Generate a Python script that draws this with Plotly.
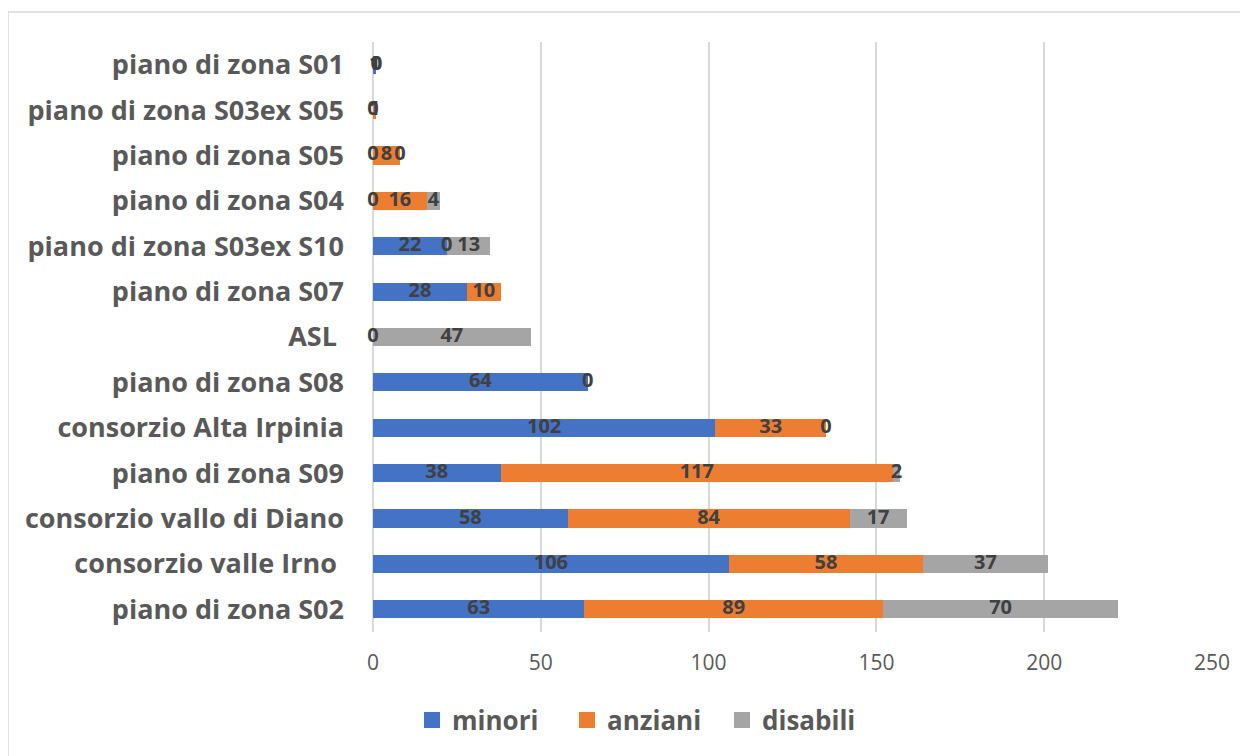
import plotly.graph_objects as go

categories = [
    "piano di zona S02",
    "consorzio valle Irno\u00a0",
    "consorzio vallo di Diano",
    "piano di zona S09",
    "consorzio Alta Irpinia",
    "piano di zona S08",
    "ASL\u00a0",
    "piano di zona S07",
    "piano di zona S03ex S10",
    "piano di zona S04",
    "piano di zona S05",
    "piano di zona S03ex S05",
    "piano di zona S01",
]
minori = [63, 106, 58, 38, 102, 64, 0, 28, 22, 0, 0, 0, 1]
anziani = [89, 58, 84, 117, 33, 0, None, 10, 0, 16, 8, 1, 0]
disabili = [70, 37, 17, 2, 0, None, 47, None, 13, 4, 0, None, 0]

series_names = ["minori", "anziani", "disabili"]
series_vals = [minori, anziani, disabili]
colors = ["#4472C4", "#ED7D31", "#A5A5A5"]

FONT = "Open Sans"
fig = go.Figure()

for name, vals, col in zip(series_names, series_vals, colors):
    fig.add_trace(go.Bar(
        y=categories, x=[v if v is not None else 0 for v in vals], name=name,
        orientation="h", marker=dict(color=col, line=dict(width=0)),
        hoverinfo="skip", showlegend=False,
    ))

# data labels centred on each segment
cum = [0] * len(categories)
for vals in series_vals:
    xs, ys, ts = [], [], []
    for i, v in enumerate(vals):
        vv = v if v is not None else 0
        if v is not None:
            xs.append(cum[i] + vv / 2)
            ys.append(categories[i])
            ts.append(str(v))
        cum[i] += vv
    fig.add_trace(go.Scatter(
        x=xs, y=ys, text=ts, mode="text", showlegend=False, hoverinfo="skip",
        textposition="middle center",
        textfont=dict(family=FONT, size=20, color="#404040", weight="bold"),
        cliponaxis=False,
    ))

# legend entries with larger square swatches
for name, col in zip(series_names, colors):
    fig.add_trace(go.Scatter(
        x=[None], y=[None], mode="markers", name=name,
        marker=dict(symbol="square", size=18, color=col),
        hoverinfo="skip",
    ))

# page body has an 8px margin; coordinates below are page pixels
OFF = 8
W, H = 1240, 748
L, R = 373 - OFF, 1240 - (1212 - OFF)
T, B = 42 - OFF, 748 - (632 - OFF)
pw, ph = W - L - R, H - T - B

def px(x):
    return (x - OFF - L) / pw

def py(y):
    return (H - B - (y - OFF)) / ph

fig.update_layout(
    width=W, height=H,
    margin=dict(l=L, r=R, t=T, b=B, autoexpand=False),
    barmode="stack", bargap=0.6,
    plot_bgcolor="white", paper_bgcolor="white",
    font=dict(family=FONT, color="#595959"),
    xaxis=dict(range=[0, 250], dtick=50, showgrid=True, gridcolor="#d9d9d9", gridwidth=1.5,
               zeroline=True, zerolinecolor="#d9d9d9", zerolinewidth=1.5,
               tickfont=dict(size=21, color="#595959"), ticklabelstandoff=16,
               showline=False, fixedrange=True, automargin=False),
    yaxis=dict(showgrid=False, zeroline=False, showline=False,
               range=[-0.5, len(categories) - 0.5],
               tickfont=dict(size=27, color="#595959", weight="bold"),
               ticklabelstandoff=28, fixedrange=True, automargin=False),
    legend=dict(orientation="h", x=px(412), xanchor="left", y=py(720), yanchor="middle",
                font=dict(size=26, color="#595959", weight="bold"),
                itemwidth=30, entrywidth=110, traceorder="normal"),
    shapes=[dict(type="rect", xref="paper", yref="paper",
                 x0=px(8), x1=px(1270), y0=py(780), y1=py(12),
                 line=dict(color="#d9d9d9", width=1.5), fillcolor="rgba(0,0,0,0)", layer="below")],
)

fig.write_html("out.html")
